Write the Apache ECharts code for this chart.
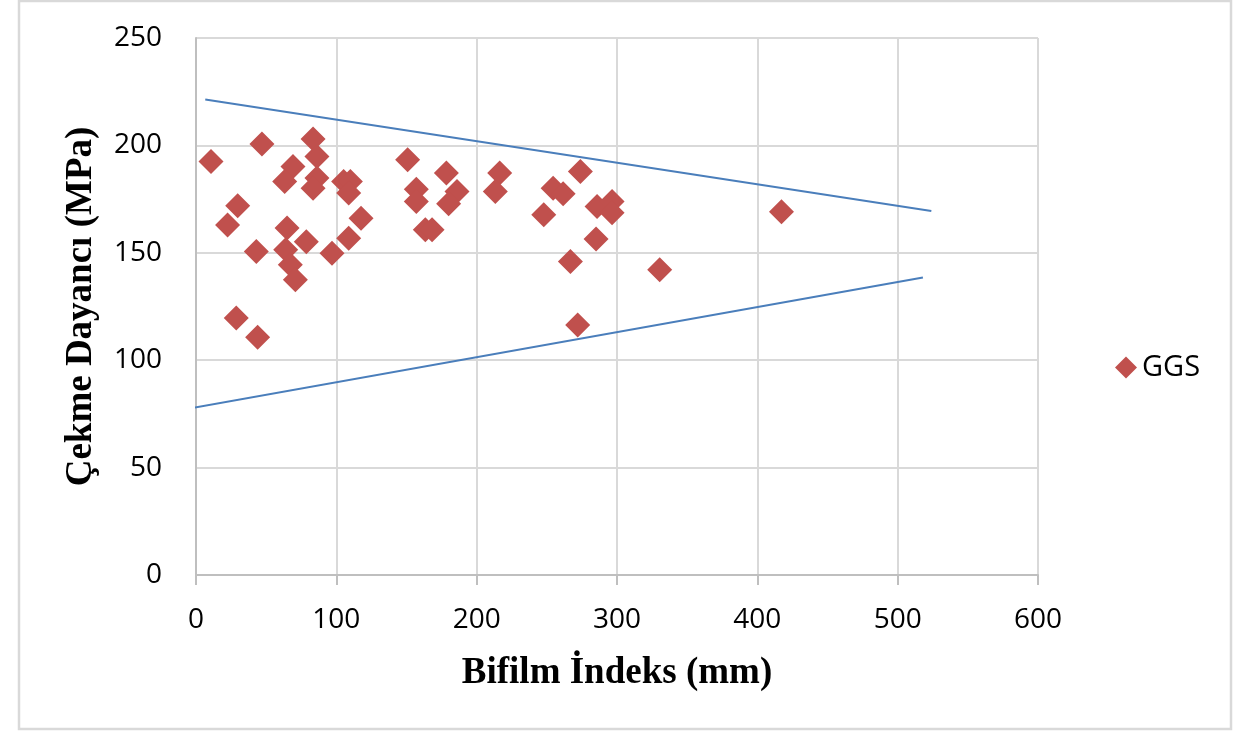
<!DOCTYPE html>
<html>
<head>
<meta charset="utf-8">
<script src="https://cdn.jsdelivr.net/npm/echarts@6/dist/echarts.min.js"></script>
<style>
  html, body { margin: 0; padding: 0; background: #fff; }
  #main { width: 1234px; height: 731px; }
</style>
</head>
<body>
<div id="main"></div>
<script>
// GGS points: bifilm index (mm) vs tensile strength (MPa)
const ggsX = [10.7, 47, 29.7, 22.5, 43, 28.7, 43.9, 83.4, 86.2, 69.1, 63.2, 86.2, 83.4, 105.2, 110, 108.8,
  117.6, 64.9, 78.6, 63.9, 67.2, 70.8, 108.8, 96.9, 150.8, 157, 157, 178.4, 186, 180, 163.4, 168.2,
  216.4, 213.3, 273.9, 254.5, 261.6, 247.8, 285.8, 296.5, 296.5, 285.1, 266.8, 330.4, 272, 417.2]
const ggsY = [192.5, 200.6, 171.9, 163, 150.6, 119.6, 110.7, 203, 194.8, 190.2, 183.2, 184.8, 180.1, 183.2, 183.2, 177.8,
  166.1, 161.5, 155.2, 151.4, 144.4, 137.4, 156.8, 149.8, 193.3, 179.6, 173.9, 187.1, 178.5, 172.8, 160.7, 160.7,
  187.1, 178.5, 187.8, 180.1, 177.5, 167.7, 171.5, 173.9, 168.7, 156.4, 145.9, 142.1, 116.4, 169.1]

// envelope lines (start / end)
const upperX = [6.6, 524]
const upperY = [221.4, 169.5]
const lowerX = [-4, 518]
const lowerY = [77.6, 138.5]

const xTicks = [0, 100, 200, 300, 400, 500, 600]
const yTicks = [0, 50, 100, 150, 200, 250]

const zip = (a, b) => a.map((v, i) => [v, b[i]])

const chart = echarts.init(document.getElementById('main'))

const labelFont = '"Open Sans", "Noto Sans", sans-serif'
const titleFont = '"Liberation Serif", "DejaVu Serif", serif'

const option = {
  backgroundColor: '#fff',
  animation: false,
  graphic: [{
    type: 'rect',
    shape: { x: 19, y: 1, width: 1212, height: 728 },
    style: { fill: 'none', stroke: '#d9d9d9', lineWidth: 2.5 }
  }],
  grid: { left: 196, right: 196, top: 38, bottom: 156 },
  legend: {
    data: [{ name: 'GGS', icon: 'diamond' }],
    left: 1110,
    top: 348,
    itemWidth: 22,
    itemHeight: 22,
    itemGap: 6,
    textStyle: { fontFamily: labelFont, fontSize: 29, color: '#000' }
  },
  xAxis: {
    type: 'value',
    min: xTicks[0],
    max: xTicks[xTicks.length - 1],
    interval: 100,
    name: 'Bifilm İndeks (mm)',
    nameLocation: 'middle',
    nameGap: 80,
    nameTextStyle: { fontFamily: titleFont, fontWeight: 'bold', fontSize: 37, color: '#000' },
    axisLine: { show: true, lineStyle: { color: '#bfbfbf', width: 2 } },
    axisTick: { show: true, length: 10, lineStyle: { color: '#bfbfbf', width: 2 } },
    axisLabel: { fontFamily: labelFont, fontSize: 28, color: '#000', margin: 31 },
    splitLine: { show: true, lineStyle: { color: '#d9d9d9', width: 2 } }
  },
  yAxis: {
    type: 'value',
    min: yTicks[0],
    max: yTicks[yTicks.length - 1],
    interval: 50,
    name: 'Çekme Dayancı (MPa)',
    nameLocation: 'middle',
    nameGap: 96,
    nameTextStyle: { fontFamily: titleFont, fontWeight: 'bold', fontSize: 37, color: '#000' },
    axisLine: { show: true, lineStyle: { color: '#bfbfbf', width: 2 } },
    axisTick: { show: false },
    axisLabel: { fontFamily: labelFont, fontSize: 28, color: '#000', margin: 34 },
    splitLine: { show: true, lineStyle: { color: '#d9d9d9', width: 2 } }
  },
  series: [{
    name: 'GGS',
    type: 'scatter',
    symbol: 'diamond',
    symbolSize: 25,
    itemStyle: { color: '#c0504d', opacity: 1 },
    data: zip(ggsX, ggsY)
  }, {
    name: 'upper',
    type: 'line',
    showSymbol: false,
    clip: false,
    lineStyle: { color: '#4a7ebb', width: 2 },
    data: zip(upperX, upperY)
  }, {
    name: 'lower',
    type: 'line',
    showSymbol: false,
    clip: false,
    lineStyle: { color: '#4a7ebb', width: 2 },
    data: zip(lowerX, lowerY)
  }]
}

chart.setOption(option)
</script>
</body>
</html>
